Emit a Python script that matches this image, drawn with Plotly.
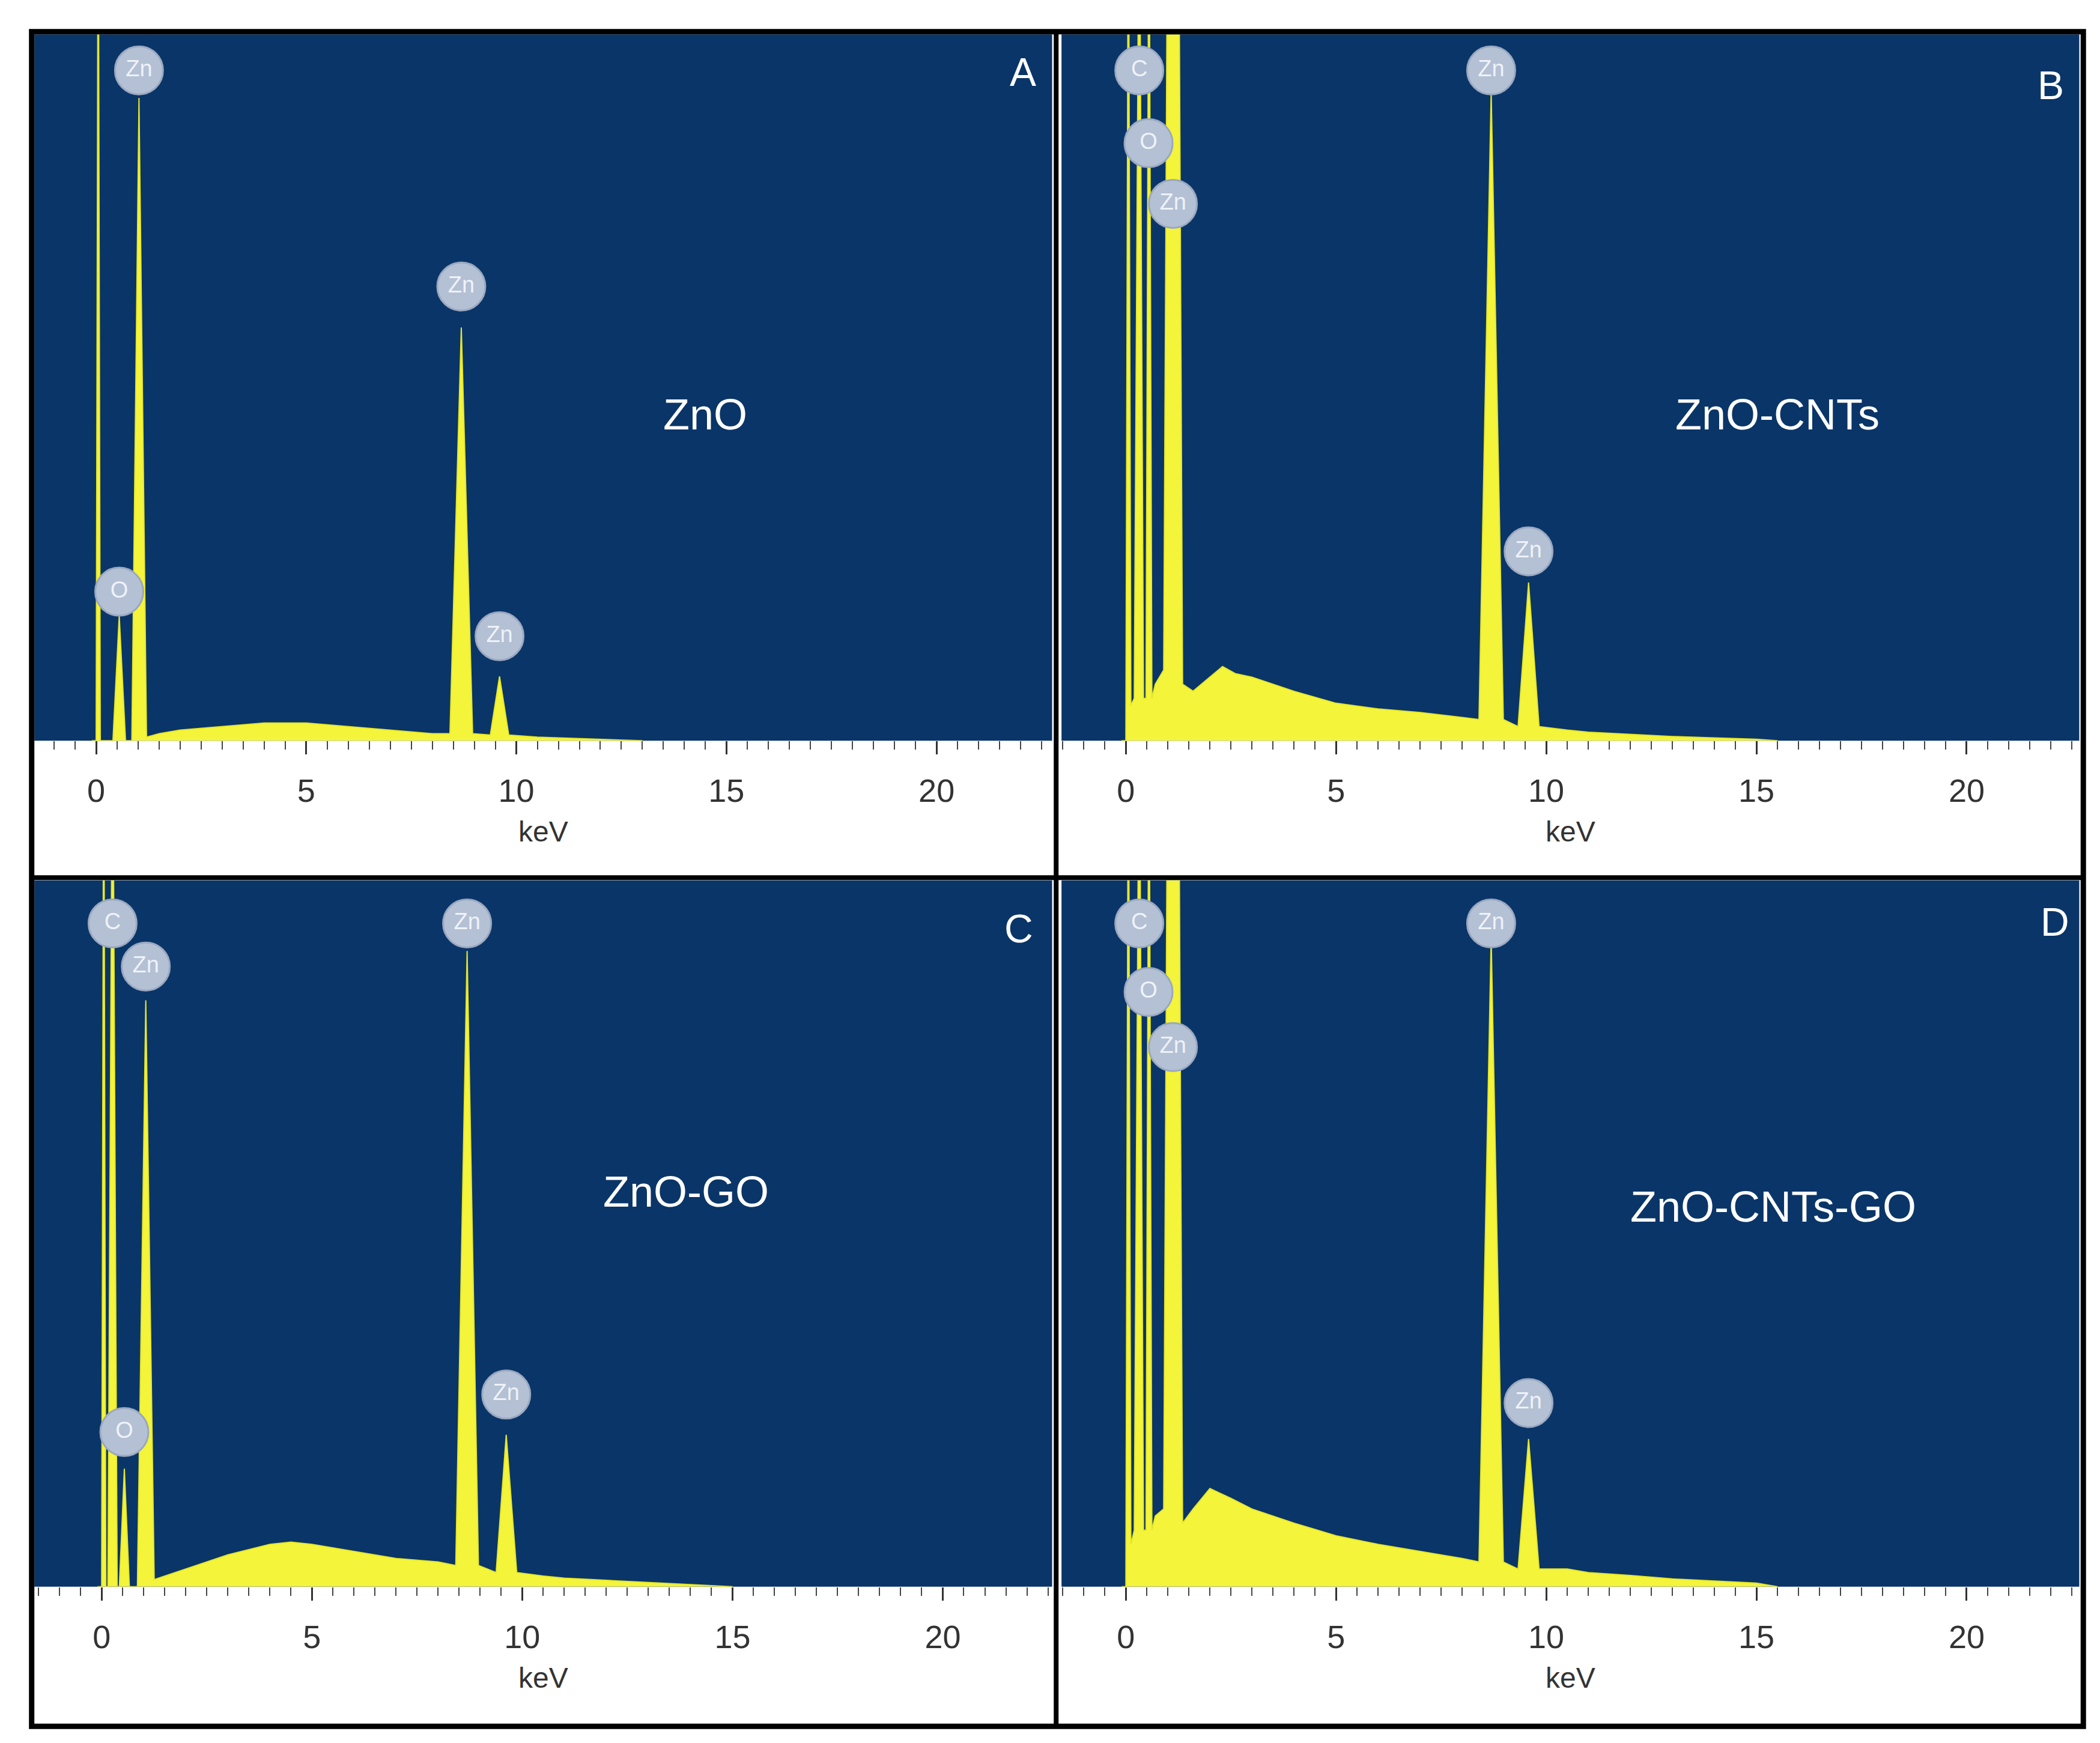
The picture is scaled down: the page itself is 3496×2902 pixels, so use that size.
import plotly.graph_objects as go

# ---- spectra (energy keV, intensity % of panel height) ----
A_E = [-0.1,0.0,0.05,0.1,0.15, 0.4,0.55,0.7, 0.85,1.02,1.2, 1.5,2,3,4,5,6,7,8, 8.42,8.69,8.96, 9.38,9.6,9.82, 10.5,11,12,13]
A_I = [0,0,130,0,0, 0,17.7,0, 0,91,0.5, 1,1.5,2,2.5,2.5,2,1.5,1, 1,58.5,1, 0.8,9.1,0.8, 0.5,0.4,0.2,0]

B_E = [-0.1,0.0,0.06,0.12, 0.2,0.32,0.42, 0.48,0.55,0.62, 0.7,0.9,1.0,1.2,1.25,1.35, 1.6,2.0,2.3,2.6,3,4,5,6,7,8, 8.4,8.69,8.98, 9.33,9.58,9.83, 10.5,11,12,13,14,15,15.5]
B_I = [0,0,130,5, 6,130,6, 6,130,6, 8,10,130,130,130,8, 7,9,10.5,9.5,9,7,5.3,4.5,4,3.3, 3,92,3, 2,22.4,2, 1.5,1.2,0.9,0.6,0.4,0.2,0]

C_E = [-0.1,0,0.05,0.1, 0.15,0.26,0.37, 0.42,0.54,0.66, 0.85,1.05,1.25, 1.5,2,3,4,4.5,5,6,7,8, 8.42,8.69,8.96, 9.38,9.62,9.87, 10.5,11,12,13,14,15]
C_I = [0,0,130,0, 0,130,0, 0,16.7,0, 0,83,1, 1.5,2.5,4.5,6,6.3,6,5,4,3.5, 3,90,3, 2,21.5,2, 1.5,1.2,0.9,0.6,0.3,0]

D_E = [-0.1,0.0,0.06,0.12, 0.2,0.32,0.42, 0.48,0.55,0.62, 0.7,0.9,1.0,1.2,1.25,1.35, 1.6,2.0,2.5,3,4,5,6,7,8, 8.4,8.69,8.98, 9.33,9.58,9.83, 10.5,11,12,13,14,15,15.5]
D_I = [0,0,130,6, 8,130,8, 8,130,8, 10,11,130,130,130,9, 11,13.9,12.5,11,9,7.2,6,5,4, 3.5,92,3.5, 2.5,20.9,2.5, 2.5,2,1.6,1.1,0.8,0.5,0]

# ---- element badges: (energy, height, element) ----
A_BADGES = [(1.02,94.9,'Zn'),(0.55,21.1,'O'),(8.69,64.3,'Zn'),(9.6,14.8,'Zn')]
B_BADGES = [(0.32,94.9,'C'),(0.54,84.6,'O'),(1.12,76.0,'Zn'),(8.69,94.9,'Zn'),(9.58,26.8,'Zn')]
C_BADGES = [(0.26,93.9,'C'),(1.05,87.8,'Zn'),(0.54,21.9,'O'),(8.69,93.9,'Zn'),(9.62,27.2,'Zn')]
D_BADGES = [(0.32,93.9,'C'),(0.54,84.2,'O'),(1.12,76.4,'Zn'),(8.69,93.9,'Zn'),(9.58,26.0,'Zn')]

SAMPLES = ['ZnO','ZnO-CNTs','ZnO-GO','ZnO-CNTs-GO']
LETTERS = ['A','B','C','D']
SAMPLE_POS = [(14.5,46.2),(15.5,46.2),(13.9,55.9),(15.4,53.8)]
LETTER_POS = [(22.05,94.7),(22.0,92.8),(21.8,93.2),(22.1,94.1)]
XRANGES = [(-1.47,22.75),(-1.53,22.68),(-1.6,22.6),(-1.53,22.68)]
TICKS = [0,5,10,15,20]

W, H = 1564, 1298
XD = [(22/W,780/W),(787/W,1545/W),(22/W,780/W),(787/W,1545/W)]
YD = [(1-548/H,1-22/H),(1-548/H,1-22/H),(1-1178/H,1-652/H),(1-1178/H,1-652/H)]

BLUE = '#0a3568'
YEL = '#f4f43a'

fig = go.Figure()
spectra = [(A_E,A_I),(B_E,B_I),(C_E,C_I),(D_E,D_I)]
badges = [A_BADGES,B_BADGES,C_BADGES,D_BADGES]
layout = {}
for i in range(4):
    n = '' if i == 0 else str(i+1)
    xa, ya = 'x'+n, 'y'+n
    E, I = spectra[i]
    fig.add_trace(go.Scatter(x=E, y=I, xaxis=xa, yaxis=ya, mode='lines', fill='tozeroy',
                             line=dict(color='#e6e62a', width=2), fillcolor=YEL, showlegend=False))
    bx = [b[0] for b in badges[i]]; by = [b[1] for b in badges[i]]; bt = [b[2] for b in badges[i]]
    fig.add_trace(go.Scatter(x=bx, y=by, xaxis=xa, yaxis=ya, mode='markers+text', text=bt,
                             textposition='middle center', cliponaxis=False,
                             marker=dict(size=80, color='#b4c0d4', line=dict(color='#9aa8c0', width=3)),
                             textfont=dict(size=38, color='#eef2f8', family='Arial'), showlegend=False))
    layout['xaxis'+n] = dict(domain=XD[i], range=XRANGES[i], anchor=ya, tickvals=TICKS,
                             ticktext=[str(t) for t in TICKS], ticks='outside', ticklen=22, tickwidth=3,
                             tickcolor='#333', showgrid=False, zeroline=False, showline=False,
                             ticklabelstandoff=14,
                             tickfont=dict(size=54, color='#333', family='Arial'),
                             title=dict(text='keV', font=dict(size=48, color='#333', family='Arial'), standoff=22),
                             minor=dict(dtick=0.5, ticks='outside', ticklen=14, tickwidth=2, tickcolor='#444', showgrid=False))
    layout['yaxis'+n] = dict(domain=YD[i], range=[0,100], anchor=xa, visible=False, fixedrange=True)
    fig.add_shape(type='rect', xref=xa+' domain', yref=ya+' domain', x0=0, x1=1, y0=0, y1=1,
                  fillcolor=BLUE, line=dict(width=0), layer='below')
    fig.add_annotation(x=SAMPLE_POS[i][0], y=SAMPLE_POS[i][1], xref=xa, yref=ya, text=SAMPLES[i],
                       showarrow=False, font=dict(size=72, color='white', family='Arial'))
    fig.add_annotation(x=LETTER_POS[i][0], y=LETTER_POS[i][1], xref=xa, yref=ya, text=LETTERS[i],
                       showarrow=False, font=dict(size=66, color='white', family='Arial'))

# frame lines
def px(x): return x/W
def py(y): return 1-y/H
fig.add_shape(type='rect', xref='paper', yref='paper', x0=px(20), x1=px(1548), y0=py(1282), y1=py(20),
              line=dict(color='black', width=9))
fig.add_shape(type='line', xref='paper', yref='paper', x0=px(783), x1=px(783), y0=py(1282), y1=py(20),
              line=dict(color='black', width=8))
fig.add_shape(type='line', xref='paper', yref='paper', x0=px(20), x1=px(1548), y0=py(650), y1=py(650),
              line=dict(color='black', width=8))

fig.update_layout(width=3496, height=2902, margin=dict(l=0, r=0, t=0, b=0),
                  paper_bgcolor='white', plot_bgcolor='rgba(0,0,0,0)', **layout)
fig.write_html('out.html')
